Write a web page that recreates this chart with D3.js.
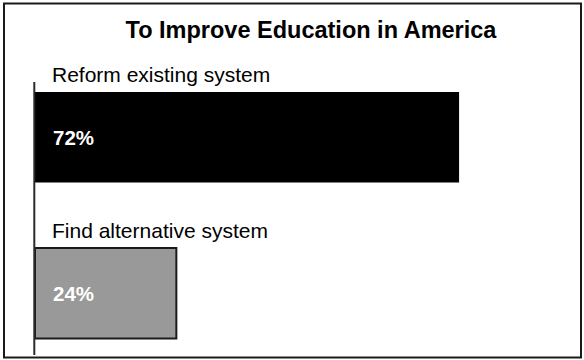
<!DOCTYPE html>
<html>
<head>
<meta charset="utf-8">
<script src="https://cdn.jsdelivr.net/npm/d3@7/dist/d3.min.js"></script>
<style>
  html, body { margin: 0; padding: 0; background: #fff; }
  svg { display: block; font-family: "Liberation Sans", Arial, Helvetica, sans-serif; }
</style>
</head>
<body>
<script>
// Survey answers: share of respondents per option
const categories = ["Reform existing system", "Find alternative system"];
const values = [72, 24];
const valueLabels = ["72%", "24%"];
const fills = ["#000000", "#999999"];
const strokes = ["#000000", "#1a1a1a"];
const title = "To Improve Education in America";

const W = 584, H = 360;
const svg = d3.select("body").append("svg")
  .attr("width", W).attr("height", H);

// outer frame
svg.append("rect")
  .attr("x", 4).attr("y", 3.5)
  .attr("width", 577).attr("height", 354)
  .attr("fill", "#fff")
  .attr("stroke", "#1a1a1a")
  .attr("stroke-width", 2);

// title
svg.append("text")
  .attr("x", 311).attr("y", 38)
  .attr("text-anchor", "middle")
  .attr("font-size", 23.5)
  .attr("font-weight", "bold")
  .attr("fill", "#000")
  .text(title);

const x = d3.scaleLinear().domain([0, 100]).range([35, 624]);
const y = d3.scaleBand().domain(categories)
  .range([92, 92 + 156 * 2 - 65.5])
  .paddingInner(65.5 / 156)
  .paddingOuter(0);

// bars
svg.selectAll("rect.bar")
  .data(categories)
  .join("rect")
  .attr("class", "bar")
  .attr("x", x(0))
  .attr("y", d => y(d))
  .attr("width", (d, i) => x(values[i]) - x(0))
  .attr("height", y.bandwidth())
  .attr("fill", (d, i) => fills[i])
  .attr("stroke", (d, i) => strokes[i])
  .attr("stroke-width", (d, i) => i === 0 ? 0 : 2);

// category labels above each bar
svg.selectAll("text.cat")
  .data(categories)
  .join("text")
  .attr("class", "cat")
  .attr("x", 52)
  .attr("y", d => y(d) - 10.5)
  .attr("font-size", 21)
  .attr("fill", "#000")
  .text(d => d);

// value labels inside bars
svg.selectAll("text.val")
  .data(categories)
  .join("text")
  .attr("class", "val")
  .attr("x", 53)
  .attr("y", d => y(d) + y.bandwidth() / 2)
  .attr("dy", "0.36em")
  .attr("font-size", 20.5)
  .attr("font-weight", "bold")
  .attr("fill", "#fff")
  .text((d, i) => valueLabels[i]);

// vertical category axis line
svg.append("line")
  .attr("x1", 34.3).attr("x2", 34.3)
  .attr("y1", 82).attr("y2", 355)
  .attr("stroke", "#2a2a2a")
  .attr("stroke-width", 2);
</script>
</body>
</html>
